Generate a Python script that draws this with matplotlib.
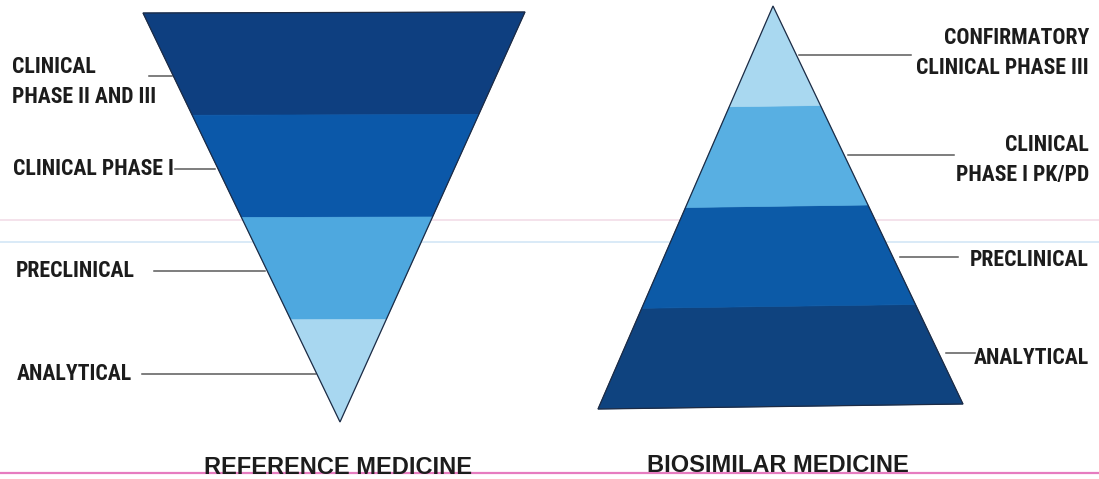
import matplotlib
matplotlib.use("Agg")
import matplotlib.pyplot as plt
from matplotlib import font_manager as fm
from matplotlib.patches import Polygon

# stages listed from the wide end to the narrow end of each shape
ref_stages = ["CLINICAL\nPHASE II AND III", "CLINICAL PHASE I", "PRECLINICAL", "ANALYTICAL"]
ref_share = [1, 1, 1, 1]
ref_colors = ["#0e3f80", "#0b58a9", "#4ea8df", "#a8d7f0"]

bio_stages = ["ANALYTICAL", "PRECLINICAL", "CLINICAL\nPHASE I PK/PD", "CONFIRMATORY\nCLINICAL PHASE III"]
bio_share = [1, 1, 1, 1]
bio_colors = ["#0f437f", "#0c5aa7", "#58afe2", "#a9d8f0"]

titles = ["REFERENCE MEDICINE", "BIOSIMILAR MEDICINE"]

# pick a bold condensed face for the stage labels
bold_names = {f.name for f in fm.fontManager.ttflist
              if (f.weight if isinstance(f.weight, int) else 400) >= 600}
cands = ["Roboto Condensed", "PT Sans Narrow", "Pragati Narrow", "Archivo Narrow",
         "Asap Condensed", "Barlow Semi Condensed", "Liberation Sans Narrow"]
label_font = [c for c in cands if c in bold_names][:1] + ["Liberation Sans", "DejaVu Sans"]
title_font = ["Liberation Sans", "DejaVu Sans"]
text_col = "#1c1c1c"
line_col = "#5a5a5a"

W, H = 1099, 479
fig = plt.figure(figsize=(W / 100, H / 100), dpi=100)
ax = fig.add_axes([0, 0, 1, 1])
ax.set_xlim(0, W)
ax.set_ylim(H, 0)
ax.axis("off")

# size the label font so "CLINICAL PHASE I" is about 160 px wide, as in the scan
renderer = fig.canvas.get_renderer()
probe = ax.text(0, 0, "CLINICAL PHASE I", fontsize=10, fontweight="heavy", family=label_font)
pw = probe.get_window_extent(renderer).width
probe.remove()
label_size = 10 * 160 / pw

# faint ruled-paper lines from the scan
ax.axhline(220, color="#f2dde8", lw=1.2, zorder=0)
ax.axhline(242, color="#d3e6f6", lw=1.2, zorder=0)
ax.axhline(473, color="#e67cc0", lw=1.6, zorder=0)


def draw_shape(left, right, tip, shares, colors):
    """left/right: ends of the wide edge, tip: the point; bands go wide -> tip"""
    total = float(sum(shares))
    fracs = [0.0]
    for s in shares:
        fracs.append(fracs[-1] + s / total)

    def edge(p, t):
        return (p[0] + (tip[0] - p[0]) * t, p[1] + (tip[1] - p[1]) * t)

    for i, c in enumerate(colors):
        t0, t1 = fracs[i], fracs[i + 1]
        pts = [edge(left, t0), edge(right, t0), edge(right, t1), edge(left, t1)]
        ax.add_patch(Polygon(pts, closed=True, facecolor=c, edgecolor=c, lw=0.5, zorder=2))
    ax.add_patch(Polygon([left, right, tip], closed=True, fill=False,
                         edgecolor="#1d2b44", lw=0.9, zorder=3))


# reference medicine: inverted triangle
ref_left, ref_right, ref_tip = (143, 13), (525, 12), (340, 422)
draw_shape(ref_left, ref_right, ref_tip, ref_share, ref_colors)

# biosimilar medicine: pyramid
bio_left, bio_right, bio_tip = (598, 409), (963, 404), (773, 6)
draw_shape(bio_left, bio_right, bio_tip, bio_share, bio_colors)

# labels with leader lines (text x, text y, line start, line end, line y)
ref_label_pos = [(12, 82, 149, 172, 76),
                 (13, 169, 175, 215, 169),
                 (16, 271, 154, 265, 271),
                 (17, 374, 142, 316, 374)]
for name, (tx, ty, x0, x1, ly) in zip(ref_stages, ref_label_pos):
    ax.text(tx, ty, name, ha="left", va="center", fontsize=label_size, fontweight="heavy",
            family=label_font, color=text_col, linespacing=1.45)
    ax.plot([x0, x1], [ly, ly], color=line_col, lw=1.1, zorder=1)

bio_label_pos = [(1089, 358, 946, 975, 353),
                 (1089, 260, 900, 958, 257),
                 (1089, 160, 848, 954, 155),
                 (1089, 53, 799, 911, 55)]
for name, (tx, ty, x0, x1, ly) in zip(bio_stages, bio_label_pos):
    ax.text(tx, ty, name, ha="right", va="center", multialignment="right",
            fontsize=label_size, fontweight="heavy", family=label_font, color=text_col,
            linespacing=1.45)
    ax.plot([x0, x1], [ly, ly], color=line_col, lw=1.1, zorder=1)

for name, (cx, cy) in zip(titles, [(338, 468), (778, 465)]):
    ax.text(cx, cy, name, ha="center", va="center", fontsize=17, fontweight="bold",
            family=title_font, color=text_col, zorder=4)

fig.savefig("out.png", dpi=100)
